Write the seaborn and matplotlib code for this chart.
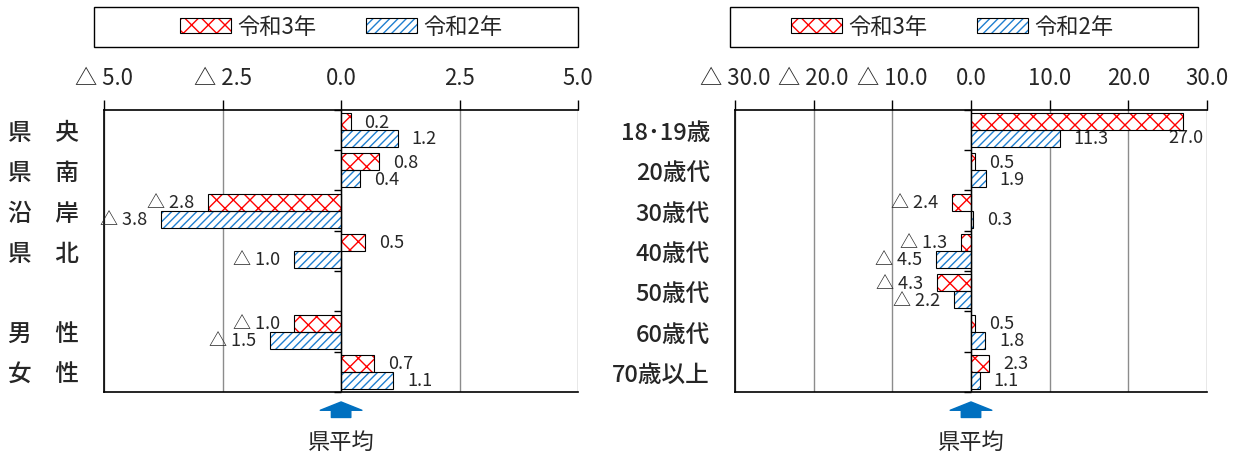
import numpy as np
import pandas as pd
import matplotlib
matplotlib.use('Agg')
import matplotlib.pyplot as plt
import matplotlib.transforms as mtransforms
from matplotlib.patches import Rectangle, Patch
from matplotlib.legend_handler import HandlerTuple
import seaborn as sns

# data
series = ['令和3年', '令和2年']

areas = ['県　央', '県　南', '沿　岸', '県　北', '', '男　性', '女　性']
area_r3 = [0.2, 0.8, -2.8, 0.5, np.nan, -1.0, 0.7]
area_r2 = [1.2, 0.4, -3.8, -1.0, np.nan, -1.5, 1.1]

ages = ['18･19歳', '20歳代', '30歳代', '40歳代', '50歳代', '60歳代', '70歳以上']
age_r3 = [27.0, 0.5, -2.4, -1.3, -4.3, 0.5, 2.3]
age_r2 = [11.3, 1.9, 0.3, -4.5, -2.2, 1.8, 1.1]

left_ticks = [-5.0, -2.5, 0.0, 2.5, 5.0]
right_ticks = [-30.0, -20.0, -10.0, 0.0, 10.0, 20.0, 30.0]

sns.set_theme(style='white')
plt.rcParams['font.family'] = ['Noto Sans CJK JP', 'DejaVu Sans']
plt.rcParams['hatch.linewidth'] = 1.0

hatch_styles = {'令和3年': ('xx', '#ff0000'), '令和2年': ('////', '#1f7fd0')}


def fmt(v):
    return f'△ {abs(v):.1f}' if v < 0 else f'{v:.1f}'


def make_df(cats, r3, r2):
    return pd.DataFrame({
        'cat': cats * 2,
        'val': list(r3) + list(r2),
        'year': [series[0]] * len(cats) + [series[1]] * len(cats),
    })


def panel(ax, cats, r3, r2, ticks, legend_x, frame_x):
    df = make_df(cats, r3, r2).dropna()
    sns.barplot(data=df, x='val', y='cat', hue='year', order=cats, hue_order=series,
                orient='h', width=0.84, palette=['white', 'white'], saturation=1,
                errorbar=None, legend=False, ax=ax, zorder=3)
    xmax = ticks[-1]
    ax.set_xlim(ticks[0], xmax)

    for cont, name in zip(ax.containers, series):
        h, col = hatch_styles[name]
        for bar in cont:
            bar.set_hatch(h)
            bar.set_edgecolor(col)
            bar.set_linewidth(0)
            ax.add_patch(Rectangle(bar.get_xy(), bar.get_width(), bar.get_height(),
                                   fill=False, edgecolor='black', lw=0.8, zorder=4))
            v = bar.get_width()
            yc = bar.get_y() + bar.get_height() / 2
            if v > 0.8 * xmax:
                ax.annotate(fmt(v), (v, yc), xytext=(2, -11), textcoords='offset points',
                            ha='center', va='center', fontsize=13)
            elif v >= 0:
                ax.annotate(fmt(v), (v, yc), xytext=(10, 0), textcoords='offset points',
                            ha='left', va='center', fontsize=13)
            else:
                ax.annotate(fmt(v), (v, yc), xytext=(-10, 0), textcoords='offset points',
                            ha='right', va='center', fontsize=13)

    # axes styling
    ax.xaxis.tick_top()
    ax.set_xticks(ticks)
    ax.set_xticklabels([fmt(t) for t in ticks])
    ax.tick_params(axis='x', top=True, bottom=False, direction='out', length=7,
                   width=1, color='black', labelsize=16, pad=8)
    ax.tick_params(axis='y', length=0, pad=18, labelsize=17)
    for lab in ax.get_yticklabels():
        lab.set_fontweight('medium')
    ax.set_xlabel('')
    ax.set_ylabel('')
    ax.grid(axis='x', color='#8c8c8c', lw=1, zorder=0)
    ax.grid(axis='y', visible=False)
    for s in ['left', 'top', 'bottom']:
        ax.spines[s].set_color('black')
        ax.spines[s].set_linewidth(1.2)
    ax.spines['right'].set_visible(False)

    # category axis at zero
    ax.axvline(0, color='black', lw=1, zorder=5)
    bounds = np.arange(len(cats) + 1) - 0.5
    ax.plot(np.zeros(len(bounds)), bounds, linestyle='none', marker=0,
            markersize=5, color='black', clip_on=False, zorder=5)
    ax.set_ylim(len(cats) - 0.5, -0.5)

    # legend with a wide frame
    handles = [(Patch(facecolor='white', edgecolor=hatch_styles[n][1], hatch=hatch_styles[n][0], lw=0),
                Patch(facecolor='none', edgecolor='black', lw=0.8)) for n in series]
    ax.legend(handles, series, handler_map={tuple: HandlerTuple(ndivide=1)},
              loc='center', bbox_to_anchor=(legend_x, 1.294), ncol=2, frameon=False,
              fontsize=16, handlelength=2.3, handleheight=0.7, handletextpad=0.3,
              columnspacing=2.2)
    ax.add_patch(Rectangle((frame_x[0], 1.223), frame_x[1] - frame_x[0], 0.142,
                           transform=ax.transAxes, fill=False, edgecolor='black',
                           lw=1, clip_on=False))

    # 県平均 arrow
    trans = mtransforms.blended_transform_factory(ax.transData, ax.transAxes)
    ax.annotate('', xy=(0, -0.035), xytext=(0, -0.09), xycoords=trans, textcoords=trans,
                arrowprops=dict(arrowstyle='simple,head_length=0.6,head_width=3.0,tail_width=1.4',
                                mutation_scale=10, color='#0070c0', shrinkA=0, shrinkB=0),
                annotation_clip=False)
    ax.text(0, -0.175, '県平均', transform=trans, ha='center', va='center', fontsize=16)


fig = plt.figure(figsize=(12.39, 4.56), dpi=100)
ax1 = fig.add_axes([0.084, 0.138, 0.3826, 0.619])
ax2 = fig.add_axes([0.5932, 0.138, 0.381, 0.619])

panel(ax1, areas, area_r3, area_r2, left_ticks, 0.5, (-0.021, 1.0))
panel(ax2, ages, age_r3, age_r2, right_ticks, 0.46, (-0.011, 0.981))

fig.savefig('out.png', dpi=100)
